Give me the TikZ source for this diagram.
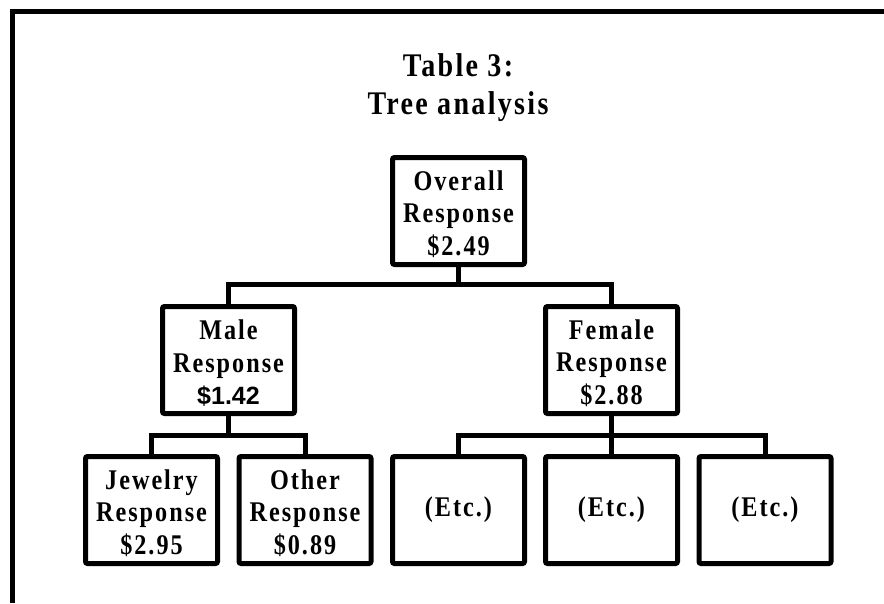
\documentclass[tikz,border=0pt]{standalone}
\usepackage{fontspec}
\setmainfont{Liberation Serif}
\newfontfamily\boxfont{Liberation Serif}[FakeStretch=0.85,LetterSpace=7]
\newfontfamily\titlefont{Liberation Serif}[FakeStretch=0.85,LetterSpace=7]
\newfontfamily\numfont{Liberation Sans}

\begin{document}
\begin{tikzpicture}[x=1pt, y=-1pt,
  box/.style={draw, line width=5pt, rounded corners=2pt, minimum width=132pt,
    minimum height=107pt, inner sep=0pt, align=center,
    font=\boxfont\bfseries\fontsize{28.5}{32.5}\selectfont},
  link/.style={line width=5pt}]
\useasboundingbox (0,0) rectangle (884,603);

% frame
\draw[line width=5pt] (12.5,603) -- (12.5,11) -- (884,11);

% title
\node[align=center, inner sep=0pt, font=\titlefont\bfseries\fontsize{33}{38}\selectfont]
  (title) at (458,88) {Table 3:\\Tree analysis};

% coordinates
\coordinate (bar1) at (0,284.5);
\coordinate (bar2) at (0,435);

% boxes
\begin{scope}[every node/.style={box}]
\node (overall) at (458.5,211) {\rule{0pt}{26pt}Overall\\Response\\\$2.49};
\node (male) at (228.5,360) {\rule{0pt}{26pt}Male\\Response\\{\numfont\fontsize{25}{32.5}\selectfont\$1.42}};
\node (female) at (611.5,360) {\rule{0pt}{26pt}Female\\Response\\\$2.88};
\node (jewelry) at (151.5,510) {\rule{0pt}{26pt}Jewelry\\Response\\\$2.95};
\node (other) at (305,510) {\rule{0pt}{26pt}Other\\Response\\\$0.89};
\node (etc1) at (458.5,510) {(Etc.)};
\node (etc2) at (611.5,510) {(Etc.)};
\node (etc3) at (765,510) {(Etc.)};
\end{scope}

% connectors
\draw[link] (overall.south) -- (overall.south |- bar1);
\draw[link] (male.north) |- (overall.south |- bar1) -| (female.north);
\draw[link] (male.south) -- (male.south |- bar2);
\draw[link] (jewelry.north) |- (male.south |- bar2) -| (other.north);
\draw[link] (female.south) -- (etc2.north);
\draw[link] (etc1.north) |- (female.south |- bar2) -| (etc3.north);

\end{tikzpicture}
\end{document}
